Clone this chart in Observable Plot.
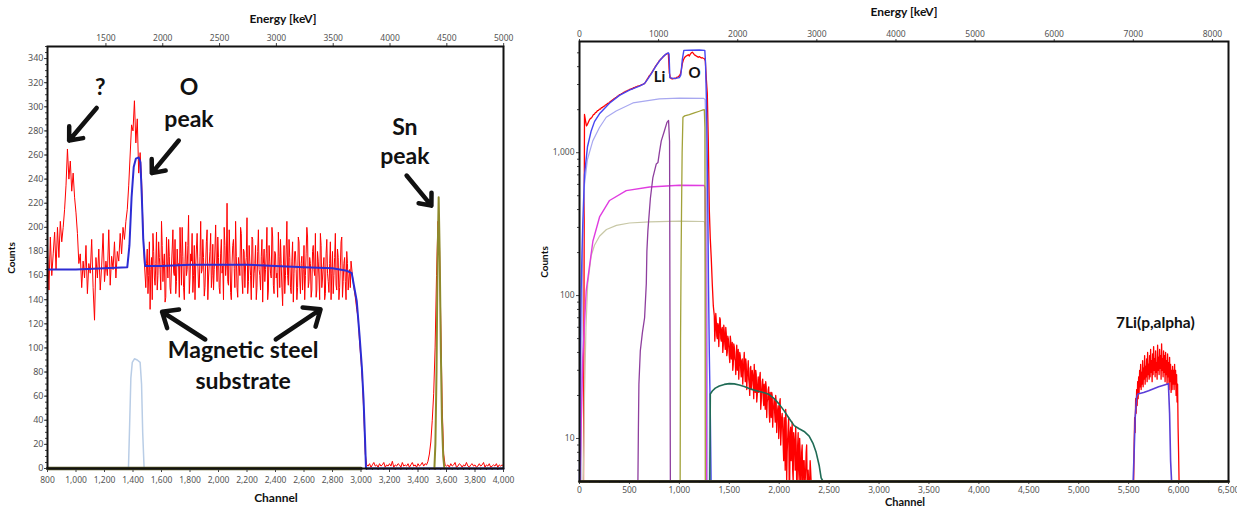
<!DOCTYPE html>
<html><head><meta charset="utf-8">
<script src="https://cdn.jsdelivr.net/npm/d3@7"></script>
<script src="https://cdn.jsdelivr.net/npm/@observablehq/plot@0.6"></script>
<style>
body{margin:0;background:#fff;}
#wrap{position:relative;width:1237px;height:507px;overflow:hidden;}
.panel{position:absolute;top:0;}
.ttl{position:absolute;font-family:Lato,"Open Sans",sans-serif;font-weight:bold;font-size:12px;color:#111;white-space:nowrap;transform:translate(-50%,-50%);}
.ylab{font-size:10px;transform:translate(-50%,-50%) rotate(-90deg);}
.small{font-size:11px;}
</style></head><body><div id="wrap"></div><script>
// ---------------- LEFT PANEL DATA ----------------
const leftXTicks = [800,1000,1200,1400,1600,1800,2000,2200,2400,2600,2800,3000,3200,3400,3600,3800,4000];
const leftYTicks = [0,20,40,60,80,100,120,140,160,180,200,220,240,260,280,300,320,340];
const leftEnergyTicks = [1500,2000,2500,3000,3500,4000,4500,5000];
// measured spectrum, channel start / step and counts
const leftRedAStart = 800, leftRedBStart = 1490, leftRedBMidStart = 1495, leftRedCStart = 2940, leftRedStep = 10;
const leftRedA = [185,148,192,160,178,196,165,200,175,205,188,
  200,215,235,265,240,255,230,245,225,212,195,170,
  178,150,172,158,185,145,170,162,190,150,123,175,158,182,148,168,195,155,172,160,198,152,176,165,188,158,180,172,195,178,200,190,
  205,215,235,260,285,280,305,270,290,245,262,240,200,170];
const leftRedB = [150,182,160,132,175,195,158,170,148,188,
  165,205,155,178,142,172,190,150,168,198,
  160,145,182,170,200,152,176,140,188,165,
  210,158,172,146,185,168,195,150,176,162,
  190,143,170,198,158,180,150,186,165,202,
  155,175,145,190,168,200,160,220,152,178,
  140,185,166,205,150,175,160,195,145,180,
  168,208,155,172,140,190,162,185,150,198,
  160,176,138,182,165,200,148,172,158,192,
  145,178,162,196,150,170,135,185,160,205,
  152,175,145,188,162,180,140,192,158,170,
  148,185,160,200,150,175,142,180,165,195,
  148,172,140,185,158,175,145,190,155,170,
  140,180,160,195,148,175,150,188,142,170,
  155,180,148,165,172];
const leftRedBMid = [170,145,188,165,140,180,152,196,160,175,
  148,185,170,138,192,158,176,145,182,163,
  190,155,168,142,178,200,150,172,160,185,
  145,178,195,160,140,182,170,150,205,165,
  175,150,188,140,170,195,160,148,182,170,
  192,150,178,162,140,185,170,155,198,146,
  170,190,150,176,142,168,200,158,182,150,
  175,145,185,160,192,150,170,140,180,165,
  148,190,170,155,178,140,185,162,200,152,
  180,158,142,176,190,150,168,145,182,160,
  190,150,172,138,180,165,150,188,145,176,
  165,140,178,192,155,170,148,185,160,142,
  180,158,195,150,168,140,178,162,146,188,
  162,145,175,152,182,140,168,192,155,175,
  140,170,158,150];
const leftRedC = [160,150,142,132,125,105,90,72,45,12,3,
  2,4,1,3,5,2,3,1,4,2,3,5,1,3,2,4,2,6,1,3,2,4,3,1,5,2,3,2,4,1,3,5,2,3,1,4,2,3,5,2,4,
  3,6,12,22,40,62,100,160,205,190,120,50,12,3,
  2,3,1,4,2,3,5,1,2,4,3,1,3,2,5,2,1,3,4,2,3,1,2,4,2,3,5,1,3,2,4,1,2,3,2,4,1,3,2,3,2];
// simulated total (blue)
const leftBlueCh = [800,1000,1200,1360,1375,1390,1405,1420,1440,1452,1462,1472,1485,1600,1800,2000,2200,2400,2600,2800,2900,2935,2950,2970,2990,3006,3018,3028,3035,3100,3500,4000];
const leftBlueCt = [165,165,166,167,185,225,250,257,258,254,225,190,168,168,169,169,169,168,167,166,164,162,152,139,110,84,57,25,0,0,0,0];
// O contribution (pale blue)
const leftOCh = [1368,1375,1385,1395,1410,1430,1450,1460,1468,1478];
const leftOCt = [0,30,75,88,91,90,88,70,30,0];
// Sn contribution (olive)
const leftSnCh = [3515,3522,3530,3537,3545,3552,3560,3568,3577,3585];
const leftSnCt = [0,20,80,170,225,180,100,40,10,0];
// other components lying on zero
const leftBaseCh = [800,3000];
const leftBaseCt = [0,0];
// annotations (channel, counts)
const leftNoteText = ["?","O","peak","Sn","peak","Magnetic steel","substrate"];
const leftNoteCh   = [1170,1793,1793,3308,3308,2173,2173];
const leftNoteCt   = [316,316,289,283,259,98,72];
const leftArrowX1 = [1145,1721,3320,1907,2402];
const leftArrowY1 = [299,272,243,107,107];
const leftArrowX2 = [952,1532,3494,1604,2716];
const leftArrowY2 = [272,245,218,130,132];

// ---------------- RIGHT PANEL DATA ----------------
const rightXTicks = [0,500,1000,1500,2000,2500,3000,3500,4000,4500,5000,5500,6000,6500];
const rightYTicks = [10,100,1000];
const rightEnergyTicks = [0,1000,2000,3000,4000,5000,6000,7000,8000];
const rRedTopStart = 40, rRedTailStart = 1350, rRedTailMidStart = 1355, rRedStep = 10, rRedLiStart = 5540, rRedLiStep = 5;
const rRedTop = [0,
  1850,1680,1540,1580,1640,1700,1740,1750,1800,1850,1860,1910,1920,1970,1980,2020,2020,2070,2070,2110,2120,2160,2160,2210,2210,
  2250,2280,2310,2340,2370,2390,2430,2440,2490,2490,2550,2550,2590,2600,2640,2640,2690,2690,2730,2730,2770,2770,2810,2800,2850,2840,2890,2880,2920,2920,2950,
  2950,2990,2990,3030,3040,3110,3190,3290,3370,3460,3520,3610,3690,3810,3890,4010,4090,4210,4290,4410,4470,4560,4620,4710,4770,4860,4890,4960,4900,
  3600,3350,3300,3280,3300,3320,3300,3350,3380,3400,3450,3550,3800,4200,4450,4600,4700,4750,4800,4850,4750,4900,5000,5050,4950,4850,4800,4750,4700,4650,4700,4650,4600,4620,4580,4550,4400,3300,2600,1200,400,250,180,120,85];
const rRedTail = [72,58,66,50,62,55,68,48,60,45,
  56,42,54,40,50,38,52,36,47,33,
  44,35,40,30,42,32,38,27,36,29,
  40,25,33,27,35,24,31,22,30,25,
  33,21,28,20,27,22,29,18,25,19,
  24,16,23,18,22,15,21,14,20,16,
  19,13,18,14,17,12,19,11,15,9,
  14,6,13,8,12,5,11,7,13,4,
  10,6,9,3,11,5,8,2,9,4,
  7,1,8,3,6,0,7,2,5,0,
  1,0,0,0,0,0];
const rRedTailMid = [48,75,52,64,44,70,50,58,40,62,
  46,60,38,52,44,34,48,40,30,46,
  36,28,45,33,26,40,30,35,24,34,
  30,36,22,30,26,20,32,24,28,19,
  26,30,18,24,21,27,16,22,26,17,
  20,25,14,19,23,13,18,21,12,17,
  15,20,11,16,10,18,9,14,12,7,
  11,16,5,10,14,4,12,9,6,11,
  8,12,3,9,6,10,2,8,5,7,
  3,6,9,1,5,4,6,0,3,1];
const rRedLi = [0,0,5,9,14,11,19,15,22,17,25,19,27,21,30,23,33,22,29,24,35,23,31,26,38,24,32,27,36,25,40,28,33,26,38,27,42,29,35,25,39,28,44,30,36,27,41,29,34,26,45,30,37,28,42,31,38,26,46,30,36,27,41,29,38,25,40,28,35,24,39,27,34,22,37,25,33,21,30,22,32,24,30,22,33,24,30,20,28,18,24,12,8,3,0,0,0];
const rBlueCh = [0,8,17,25,33,50,80,117,150,200,267,300,400,500,600,650,680,720,760,800,840,870,890,897,905,950,1000,1015,1030,1045,1100,1200,1255,1262,1272,1282,1292,1300,1310,1318];
const rBlueCt = [0,40,110,200,320,700,1100,1420,1650,1870,2100,2220,2520,2740,2920,3040,3250,3580,3980,4380,4720,4920,5000,4900,3350,3300,3350,3500,4500,5200,5210,5230,5200,4300,2200,700,120,40,15,0];
const rLavCh = [15,30,50,80,133,200,268,367,535,800,1000,1244,1258,1266,1275,1285];
const rLavCt = [0,200,600,900,1210,1500,1770,1960,2230,2380,2410,2400,2350,1500,300,0];
const rMagCh = [5,17,33,67,134,201,301,468,702,1000,1250,1258,1265,1272];
const rMagCt = [0,12.6,37,108,240,355,463,543,575,592,590,560,200,0];
const rKhaCh = [38,50,65,82,117,150,200,270,370,500,700,1000,1250,1258,1265,1272];
const rKhaCt = [0,20,60,120,190,225,260,290,310,322,328,332,330,300,100,0];
const rLiCh = [585,590,595,609,630,652,669,675,685,710,735,769,786,800,819,850,876,892,902,910];
const rLiCt = [0,12,24,41,55,70,121,205,285,480,670,835,855,1000,1210,1420,1630,1680,1200,0];
const rOxCh = [1008,1012,1018,1022,1028,1036,1053,1100,1150,1200,1237,1250,1256,1260];
const rOxCt = [0,50,200,400,1000,1770,1810,1850,1900,1950,1990,2000,1500,0];
const rGreenCh = [1305,1310,1330,1360,1400,1450,1500,1550,1600,1650,1700,1750,1800,1850,1900,1950,2000,2050,2100,2150,2200,2250,2300,2340,2370,2400,2420,2440];
const rGreenCt = [0,20.5,21.5,22.5,23.3,23.9,24.2,24.1,23.7,23.1,22.4,21.8,21.3,20.9,20.3,19,17.4,15.6,13.8,12.3,11.7,11.2,10.4,9.2,8,6.5,5.3,0];
const r7LiCh = [5545,5555,5565,5580,5592,5650,5700,5750,5800,5850,5898,5910,5920,5930];
const r7LiCt = [0,8,14,19.5,20.5,21,21.6,22.3,23,23.6,24.2,15,7,0];
const rBaseCh = [0,6500];
const rBaseCt = [0,0];
const rightNoteText = ["Li","O","7Li(p,alpha)"];
const rightNoteCh = [802,1153,5767];
const rightNoteCt = [3390,3620,64];
const rightNoteSize = [15,15,15.5];

// ---------------- helpers ----------------
const pairs = (ch, ct) => ch.map((c, i) => ({ch: c, ct: ct[i]}));
const series = (start, step, vals) => vals.map((v, i) => ({ch: start + i * step, ct: v}));
const byCh = arr => arr.sort((a, b) => a.ch - b.ch);
const chToEL = c => 1.254 * c - 17.4, eToChL = e => (e + 17.4) / 1.254;
const chToER = c => 1.262 * c, eToChR = e => e / 1.262;
const TICKFONT = "'Noto Sans', sans-serif";
const ANNFONT = "Lato, 'Open Sans', sans-serif";

const leftRed = byCh([...series(leftRedAStart, leftRedStep, leftRedA), ...series(leftRedBStart, leftRedStep, leftRedB),
  ...series(leftRedBMidStart, leftRedStep, leftRedBMid), ...series(leftRedCStart, leftRedStep, leftRedC)]);
const leftNotes = leftNoteText.map((t, i) => ({t, ch: leftNoteCh[i], ct: leftNoteCt[i]}));
const leftArrows = leftArrowX1.map((x, i) => ({x1: x, y1: leftArrowY1[i], x2: leftArrowX2[i], y2: leftArrowY2[i]}));

const leftPlot = Plot.plot({
  width: 530, height: 507,
  marginLeft: 47, marginRight: 27, marginTop: 46, marginBottom: 39,
  x: {domain: [800, 4000]},
  y: {domain: [0, 350]},
  style: {fontFamily: TICKFONT, fontSize: "8.5px", color: "#555", background: "white", overflow: "visible"},
  marks: [
    Plot.line(leftRed, {x: "ch", y: "ct", stroke: "#ff0000", strokeWidth: 1}),
    Plot.line(pairs(leftOCh, leftOCt), {x: "ch", y: "ct", stroke: "#b9cde6", strokeWidth: 1.5}),
    Plot.line(pairs(leftBaseCh, leftBaseCt), {x: "ch", y: "ct", stroke: "#4f4f1c", strokeWidth: 3.5}),
    Plot.line(pairs(leftBlueCh, leftBlueCt), {x: "ch", y: "ct", stroke: "#2c2cd4", strokeWidth: 2}),
    Plot.line(pairs(leftSnCh, leftSnCt), {x: "ch", y: "ct", stroke: "#8f8a2c", strokeWidth: 2}),
    Plot.axisX(leftXTicks, {anchor: "bottom", tickSize: 4, tickPadding: 4, label: null, stroke: "#444"}),
    Plot.axisX(d3.range(800, 4001, 40), {anchor: "bottom", tickSize: 2, tickFormat: () => "", label: null, stroke: "#444"}),
    Plot.axisY(leftYTicks, {anchor: "left", tickSize: 3, tickPadding: 1, label: null, stroke: "#444", fontSize: 9}),
    Plot.axisY(d3.range(0, 351, 5), {anchor: "left", tickSize: 2, tickFormat: () => "", label: null, stroke: "#444"}),
    Plot.axisX(leftEnergyTicks.map(eToChL), {anchor: "top", tickSize: 4, tickPadding: 2, label: null, stroke: "#444",
      tickFormat: c => String(Math.round(chToEL(c) / 100) * 100)}),
    Plot.frame({stroke: "#111", strokeWidth: 2}),
    Plot.arrow(leftArrows, {x1: "x1", y1: "y1", x2: "x2", y2: "y2", stroke: "#111", strokeWidth: 4.5, headLength: 11, headAngle: 80}),
    Plot.text(leftNotes, {x: "ch", y: "ct", text: "t", fontSize: 23, fontWeight: "bold", fontFamily: ANNFONT, fill: "#111"})
  ]
});

const clampY = d => Math.max(d.ct, 5);
const rightRed = byCh([...series(rRedTopStart, rRedStep, rRedTop), ...series(rRedTailStart, rRedStep, rRedTail),
  ...series(rRedTailMidStart, rRedStep, rRedTailMid), ...series(rRedLiStart, rRedLiStep, rRedLi), {ch: 6500, ct: 0}]);
const rightNotes = rightNoteText.map((t, i) => ({t, ch: rightNoteCh[i], ct: rightNoteCt[i], s: rightNoteSize[i]}));
const minorLog = [6,7,8,9,20,30,40,50,60,70,80,90,200,300,400,500,600,700,800,900,2000,3000,4000,5000];

const rightPlot = Plot.plot({
  width: 707, height: 507,
  marginLeft: 49, marginRight: 9, marginTop: 41, marginBottom: 26,
  x: {domain: [0, 6500]},
  y: {type: "log", domain: [5, 6000]},
  style: {fontFamily: TICKFONT, fontSize: "8.5px", color: "#555", background: "white", overflow: "visible"},
  marks: [
    Plot.line(rightRed, {x: "ch", y: clampY, stroke: "#ff0000", strokeWidth: 1.3}),
    Plot.line(pairs(rLavCh, rLavCt), {x: "ch", y: clampY, stroke: "#a8a8f0", strokeWidth: 1.2}),
    Plot.line(pairs(rKhaCh, rKhaCt), {x: "ch", y: clampY, stroke: "#c8c8a6", strokeWidth: 1.2}),
    Plot.line(pairs(rMagCh, rMagCt), {x: "ch", y: clampY, stroke: "#e03ce0", strokeWidth: 1.4}),
    Plot.line(pairs(rLiCh, rLiCt), {x: "ch", y: clampY, stroke: "#8e3e9e", strokeWidth: 1.3}),
    Plot.line(pairs(rOxCh, rOxCt), {x: "ch", y: clampY, stroke: "#a2a23a", strokeWidth: 1.3}),
    Plot.line(pairs(rBlueCh, rBlueCt), {x: "ch", y: clampY, stroke: "#4646f2", strokeWidth: 1.4}),
    Plot.line(pairs(rGreenCh, rGreenCt), {x: "ch", y: clampY, stroke: "#1f6b55", strokeWidth: 1.6}),
    Plot.line(pairs(r7LiCh, r7LiCt), {x: "ch", y: clampY, stroke: "#5a3ed8", strokeWidth: 1.6}),
    Plot.line(pairs(rBaseCh, rBaseCt), {x: "ch", y: clampY, stroke: "#5e5a3a", strokeWidth: 3}),
    Plot.line(pairs(rBaseCh, rBaseCt), {x: "ch", y: clampY, stroke: "#7a3f9a", strokeWidth: 1.2, strokeOpacity: 0.8}),
    Plot.axisX(rightXTicks, {anchor: "bottom", tickSize: 3, tickPadding: 2, label: null, stroke: "#444"}),
    Plot.axisX(d3.range(0, 6501, 100), {anchor: "bottom", tickSize: 2, tickFormat: () => "", label: null, stroke: "#444"}),
    Plot.axisY(rightYTicks, {anchor: "left", tickSize: 3, tickPadding: 2, label: null, stroke: "#444", tickFormat: d => d.toLocaleString("en-US")}),
    Plot.axisY(minorLog, {anchor: "left", tickSize: 2, tickFormat: () => "", label: null, stroke: "#444"}),
    Plot.axisX(rightEnergyTicks.map(eToChR), {anchor: "top", tickSize: 3, tickPadding: 2, label: null, stroke: "#444",
      tickFormat: c => String(Math.round(chToER(c) / 100) * 100)}),
    Plot.frame({stroke: "#111", strokeWidth: 2}),
    Plot.text(rightNotes, {x: "ch", y: "ct", text: "t", fontSize: d => d.s, fontWeight: "bold", fontFamily: ANNFONT, fill: "#111"})
  ]
});

const wrap = document.getElementById("wrap");
const pl = document.createElement("div"); pl.className = "panel"; pl.style.left = "0px"; pl.style.width = "530px"; pl.appendChild(leftPlot);
const pr = document.createElement("div"); pr.className = "panel"; pr.style.left = "530px"; pr.style.width = "707px"; pr.appendChild(rightPlot);
wrap.appendChild(pl); wrap.appendChild(pr);
function title(text, x, y, cls) {
  const d = document.createElement("div"); d.className = "ttl" + (cls ? " " + cls : "");
  d.textContent = text; d.style.left = x + "px"; d.style.top = y + "px"; wrap.appendChild(d);
}
title("Energy [keV]", 283, 18);
title("Channel", 276, 497, "");
title("Counts", 11, 258, "ylab");
title("Energy [keV]", 904, 11);
title("Channel", 905, 501, "small");
title("Counts", 544, 262, "ylab");
</script></body></html>
